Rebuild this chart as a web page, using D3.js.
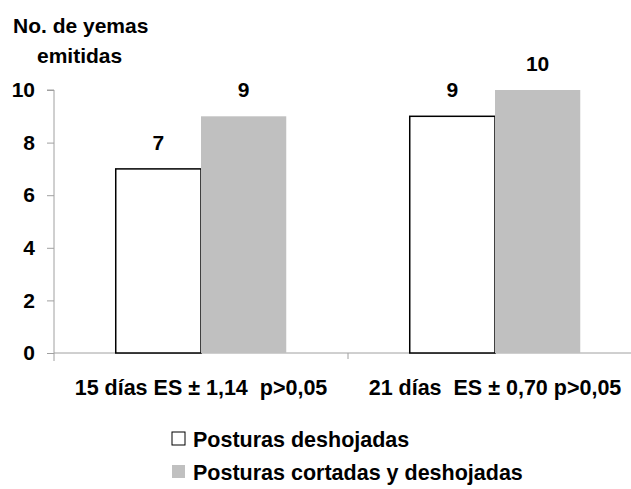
<!DOCTYPE html>
<html>
<head>
<meta charset="utf-8">
<script src="https://cdn.jsdelivr.net/npm/d3@7"></script>
<style>
  html, body { margin: 0; padding: 0; background: #fff; }
  svg { display: block; }
  text { font-family: "Liberation Sans", Arial, sans-serif; font-weight: bold; fill: #000; }
</style>
</head>
<body>
<svg id="chart" width="631" height="489"></svg>
<script>
// Groups on the x axis
const categories = ["15 días ES ± 1,14  p>0,05", "21 días  ES ± 0,70 p>0,05"];
// Series
const seriesNames = ["Posturas deshojadas", "Posturas cortadas y deshojadas"];
const deshojadas = [7, 9];
const cortadasDeshojadas = [9, 10];
const yTicks = [0, 2, 4, 6, 8, 10];
const yTitle = ["No. de yemas", "emitidas"];

const fills = ["#ffffff", "#c0c0c0"];
const strokes = ["#000000", "none"];

const svg = d3.select("#chart");
const W = 631, H = 489;

const plot = { left: 54, right: 642, top: 90, bottom: 353 };

const y = d3.scaleLinear().domain([0, 10]).range([plot.bottom, plot.top]);
const x0 = d3.scaleBand().domain(categories).range([plot.left, plot.right])
  .paddingInner(0.42).paddingOuter(0.21);
const x1 = d3.scaleBand().domain(seriesNames).range([0, x0.bandwidth()]);

const rows = categories.map((c, i) => ({
  cat: c,
  vals: [
    { s: seriesNames[0], v: deshojadas[i], idx: 0 },
    { s: seriesNames[1], v: cortadasDeshojadas[i], idx: 1 }
  ]
}));

// Y axis
const yAxis = d3.axisLeft(y).tickValues(yTicks).tickSize(7).tickPadding(12).tickFormat(d3.format("d"));
const gy = svg.append("g").attr("transform", `translate(${plot.left},0)`).call(yAxis);
gy.select(".domain").attr("stroke", "#a0a0a0").attr("d", `M-7,${plot.top}H0V${plot.bottom + 8}`);
gy.selectAll(".tick line").attr("stroke", "#a0a0a0");
gy.selectAll(".tick text").attr("font-size", 21).attr("font-family", "Liberation Sans, Arial, sans-serif")
  .attr("font-weight", "bold").attr("fill", "#000");

// X axis: baseline and separators between groups
const xAxisG = svg.append("g");
xAxisG.append("line")
  .attr("x1", plot.left).attr("x2", W)
  .attr("y1", y(0)).attr("y2", y(0))
  .attr("stroke", "#a0a0a0").attr("stroke-width", 1);
const sepPositions = categories.slice(1).map(c => x0(c) - x0.step() * x0.paddingInner() / 2);
xAxisG.selectAll("line.sep").data(sepPositions).join("line")
  .attr("class", "sep")
  .attr("x1", d => d).attr("x2", d => d)
  .attr("y1", y(0)).attr("y2", y(0) + 6)
  .attr("stroke", "#a0a0a0");

// Bars
const groups = svg.selectAll("g.grp").data(rows).join("g")
  .attr("class", "grp")
  .attr("transform", d => `translate(${x0(d.cat)},0)`);

groups.selectAll("rect").data(d => d.vals).join("rect")
  .attr("x", d => x1(d.s))
  .attr("y", d => y(d.v))
  .attr("width", x1.bandwidth())
  .attr("height", d => y(0) - y(d.v))
  .attr("fill", d => fills[d.idx])
  .attr("stroke", d => strokes[d.idx])
  .attr("stroke-width", 1.5);

// Value labels
groups.selectAll("text.val").data(d => d.vals).join("text")
  .attr("class", "val")
  .attr("x", d => x1(d.s) + x1.bandwidth() / 2)
  .attr("y", d => y(d.v) - 19)
  .attr("text-anchor", "middle")
  .attr("font-size", 21)
  .text(d => d.v);

// Category labels
svg.selectAll("text.cat").data(categories).join("text")
  .attr("class", "cat")
  .attr("x", d => x0(d) + x0.bandwidth() / 2)
  .attr("y", 395)
  .attr("text-anchor", "middle")
  .attr("font-size", 21.5)
  .style("white-space", "pre")
  .text(d => d);

// Y title
svg.append("text").attr("x", 13).attr("y", 33).attr("font-size", 21).text(yTitle[0]);
svg.append("text").attr("x", 37).attr("y", 63).attr("font-size", 21).text(yTitle[1]);

// Legend
const legend = svg.append("g").attr("transform", "translate(172,432)");
const li = legend.selectAll("g").data(seriesNames).join("g")
  .attr("transform", (d, i) => `translate(0,${i * 33})`);
li.append("rect")
  .attr("width", 13).attr("height", 13)
  .attr("fill", (d, i) => fills[i])
  .attr("stroke", (d, i) => i === 0 ? "#000" : "none")
  .attr("stroke-width", 1);
li.append("text")
  .attr("x", 21).attr("y", 14.5)
  .attr("font-size", 21.5)
  .text(d => d);
</script>
</body>
</html>
